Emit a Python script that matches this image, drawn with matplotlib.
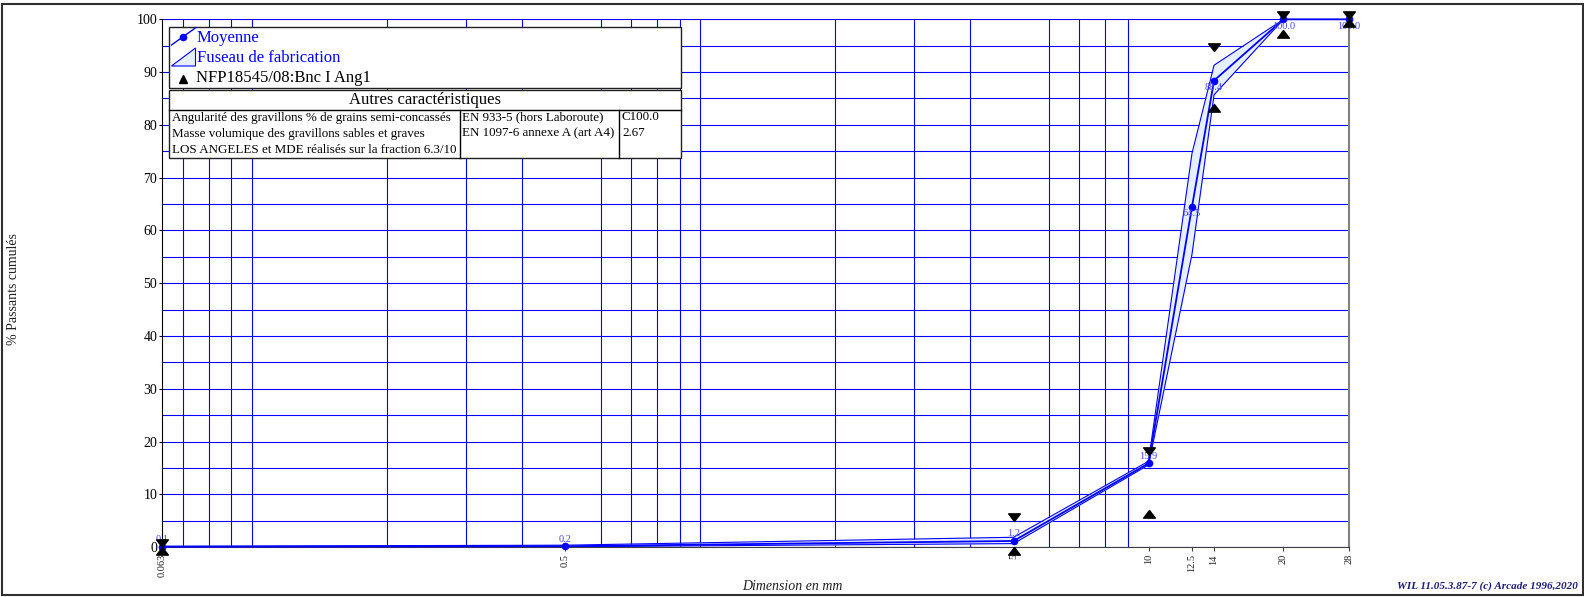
import matplotlib
matplotlib.use('Agg')
import matplotlib.pyplot as plt
from matplotlib.patches import Rectangle, Polygon
from matplotlib.lines import Line2D
from matplotlib.path import Path
from matplotlib.ticker import NullFormatter

plt.rcParams['font.family'] = ['Liberation Serif', 'DejaVu Serif']

# sieve sizes (mm) and cumulative passing (%)
sieves = [0.063, 0.5, 5, 10, 12.5, 14, 20, 28]
mean_pass = [0.1, 0.2, 1.2, 15.9, 64.5, 88.4, 100.0, 100.0]
band_low = [0.0, 0.1, 0.7, 15.6, 55.5, 85.7, 100.0, 100.0]
band_high = [0.2, 0.4, 1.9, 16.3, 74.6, 91.3, 100.0, 100.0]

# spec limits NFP18545/08
spec_x = [0.063, 5, 10, 14, 20, 28]
spec_min = [0, 0, 7, 84, 98, 100]
spec_max = [0, 5, 17.5, 94, 100, 100]

xticks = [0.063, 0.5, 5, 10, 12.5, 14, 20, 28]
xtick_labels = ['0.063', '0.5', '5', '10', '12.5', '14', '20', '28']
grid_x = [0.07, 0.08, 0.09, 0.1, 0.2, 0.3, 0.4, 0.5, 0.6, 0.7, 0.8, 0.9,
          1, 2, 3, 4, 5, 6, 7, 8, 9, 10, 20]

table_rows = [
    ("Angularité des gravillons % de grains semi-concassés", "EN 933-5 (hors Laboroute)", "C100.0"),
    ("Masse volumique des gravillons sables et graves", "EN 1097-6 annexe A (art A4)", "2.67"),
    ("LOS ANGELES et MDE réalisés sur la fraction 6.3/10", "", ""),
]

W, H = 1584, 597
fig = plt.figure(figsize=(W / 100, H / 100), dpi=100)


def px(x, y):
    # pixel position (top-left origin) -> figure fraction
    return (x / W, 1 - y / H)


ax = fig.add_axes([162 / W, 1 - 547.3 / H, (1349 - 162) / W, (547.3 - 19.3) / H])
ax.set_xscale('log')
ax.set_xlim(0.063, 28)
ax.set_ylim(0, 100)

# grid
ax.set_xticks(xticks)
ax.set_xticklabels(xtick_labels, rotation=90)
ax.set_xticks(grid_x, minor=True)
ax.xaxis.set_minor_formatter(NullFormatter())
ax.set_yticks(range(0, 101, 10))
ax.set_yticks(range(5, 100, 10), minor=True)
ax.grid(which='minor', axis='x', color='#0000ff', lw=0.8)
ax.grid(which='both', axis='y', color='#0000ff', lw=0.8)
ax.tick_params(axis='x', which='major', direction='out', length=3, width=0.8,
               color='#404040', labelsize=7.5, pad=2, labelcolor='#202020')
ax.tick_params(axis='x', which='minor', length=0)
ax.tick_params(axis='y', which='major', direction='out', length=2.5, width=0.8,
               labelsize=10, pad=1)
ax.tick_params(axis='y', which='minor', length=0)
ax.set_axisbelow(True)

ax.spines['top'].set_visible(False)
ax.spines['left'].set_color('black')
ax.spines['bottom'].set_color('#404040')
ax.spines['right'].set_color('#808080')
ax.spines['right'].set_linewidth(1.5)

# fuseau de fabrication
ax.fill_between(sieves, band_low, band_high, color='#e6f0fc', lw=0)
ax.plot(sieves, band_low, color='#0000ff', lw=0.8)
ax.plot(sieves, band_high, color='#0000ff', lw=0.8)

# moyenne
ax.plot(sieves, mean_pass, color='#0000ff', lw=1.3, marker='o', ms=4.5, clip_on=False, zorder=4)
for x, v in zip(sieves, mean_pass):
    ax.annotate(f"{v:.1f}", (x, v), xytext=(0, 7 if v < 50 else -7),
                textcoords='offset pixels', ha='center', va='center',
                fontsize=7.5, color='#4848ff', annotation_clip=False, zorder=5)

# spec markers, tip on the limit value
tri_down = Path([(0, 0), (-1, 1.3), (1, 1.3), (0, 0)], closed=True)
tri_up = Path([(0, 0), (-1, -1.3), (1, -1.3), (0, 0)], closed=True)
ax.plot(spec_x, spec_max, ls='none', marker=tri_down, ms=11, color='black', clip_on=False, zorder=6)
ax.plot(spec_x, spec_min, ls='none', marker=tri_up, ms=11, color='black', clip_on=False, zorder=6)

# legend box
fig.add_artist(Rectangle(px(169, 88), 512 / W, 61 / H, transform=fig.transFigure,
                         facecolor='white', edgecolor='#202020', lw=1.0, zorder=10))
lx, ly = zip(px(171.5, 45), px(196, 27.5))
fig.add_artist(Line2D(lx, ly, transform=fig.transFigure, color='#0000ff', lw=1, zorder=11))
fig.add_artist(Line2D([px(183, 36.5)[0]], [px(183, 36.5)[1]], transform=fig.transFigure,
                      marker='o', ms=4.5, color='#0000ff', zorder=11))
fig.add_artist(Polygon([px(171.5, 66), px(195.5, 48), px(195.5, 66)], closed=True,
                       transform=fig.transFigure, facecolor='#e6f0fc',
                       edgecolor='#0000ff', lw=0.8, zorder=11))
fig.add_artist(Line2D([px(183, 79)[0]], [px(183, 79)[1]], transform=fig.transFigure,
                      marker='^', ms=6, color='black', ls='none', zorder=11))
fig.text(*px(197, 37.5), "Moyenne", fontsize=12, color='#0000ff', va='center', zorder=12)
fig.text(*px(197, 57.5), "Fuseau de fabrication", fontsize=12, color='#0000ff', va='center', zorder=12)
fig.text(*px(196, 77.5), "NFP18545/08:Bnc I Ang1", fontsize=12, color='black', va='center', zorder=12)

# autres caracteristiques table
fig.add_artist(Rectangle(px(169, 158), 512 / W, 68 / H, transform=fig.transFigure,
                         facecolor='white', edgecolor='#202020', lw=1.0, zorder=10))
for seg in [((169, 110), (681, 110)), ((460, 110), (460, 158)), ((619, 110), (619, 158))]:
    sx, sy = zip(px(*seg[0]), px(*seg[1]))
    fig.add_artist(Line2D(sx, sy, transform=fig.transFigure, color='black', lw=1, zorder=11))
fig.text(*px(425, 100), "Autres caractéristiques", fontsize=12, ha='center', va='center', zorder=12)
for i, row in enumerate(table_rows):
    y = 117.5 + i * 16
    for x, txt in zip([172, 462, 622], row):
        fig.text(*px(x, y), txt, fontsize=9.4, va='center', zorder=12)

# labels
fig.text(*px(14, 289), "% Passants cumulés", rotation=90, fontsize=10,
         ha='center', va='center', color='#202020')
fig.text(*px(792, 586), "Dimension en mm", fontsize=10, style='italic',
         ha='center', va='center', color='#202020')
fig.text(*px(1578, 586), "WIL 11.05.3.87-7 (c) Arcade 1996,2020", fontsize=8,
         style='italic', weight='bold', ha='right', va='center', color='#1c1c78')

# outer frame
fig.add_artist(Rectangle((1.5 / W, 2 / H), (W - 3) / W, (H - 6) / H, transform=fig.transFigure,
                         fill=False, edgecolor='#303030', lw=1.5, zorder=20))

fig.savefig('out.png', dpi=100)
